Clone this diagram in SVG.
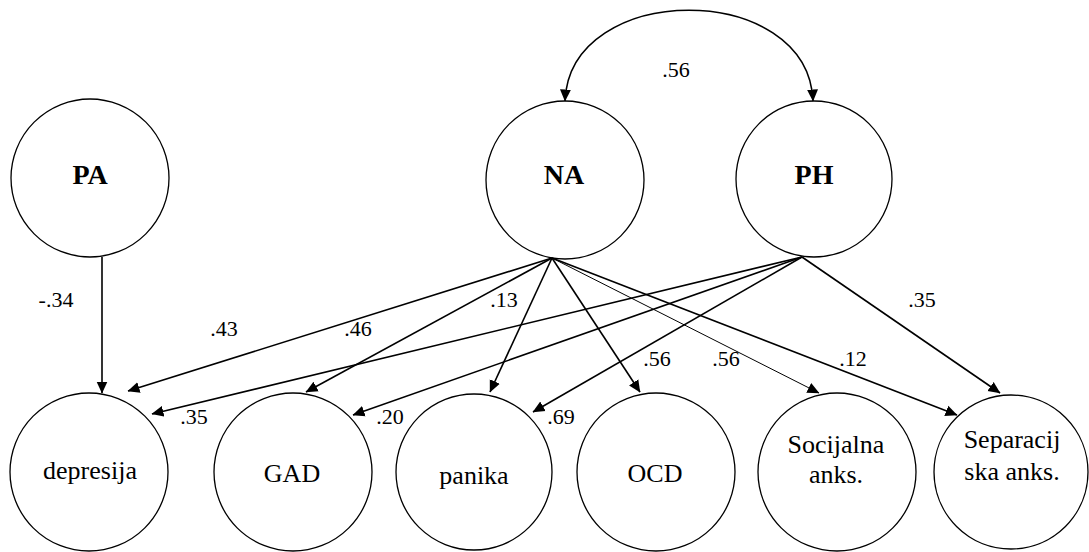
<svg xmlns="http://www.w3.org/2000/svg" width="1089" height="552" viewBox="0 0 1089 552">
<style>
.node{fill:#fff;stroke:#000;stroke-width:1.3}
text{font-family:'Liberation Serif','Times New Roman',Times,'DejaVu Serif',serif;fill:#000;text-anchor:middle}
.lat{font-weight:bold;font-size:28px}
.obs{font-size:26px}
.lbl{font-size:22px}
.edge{fill:none;stroke:#000;stroke-width:1.6;marker-end:url(#ah)}
.thin{stroke-width:1}
</style>
<defs>
<marker id="ah" markerUnits="userSpaceOnUse" markerWidth="12" markerHeight="12" viewBox="0 0 12 12" refX="11.5" refY="6" orient="auto">
<path d="M0,0.5 L12,6 L0,11.5 z" fill="#000"/>
</marker>
<marker id="ahs" markerUnits="userSpaceOnUse" markerWidth="12" markerHeight="12" viewBox="0 0 12 12" refX="11.5" refY="6" orient="auto-start-reverse">
<path d="M0,0.5 L12,6 L0,11.5 z" fill="#000"/>
</marker>
</defs>
<rect x="0" y="0" width="1089" height="552" fill="#fff"/>
<g id="PA"><circle class="node" cx="90" cy="178" r="79"/><text class="lat" x="90" y="184" font-family="Liberation Serif, serif">PA</text></g>
<g id="NA"><circle class="node" cx="565" cy="180" r="79"/><text class="lat" x="564" y="184" font-family="Liberation Serif, serif">NA</text></g>
<g id="PH"><circle class="node" cx="814" cy="179" r="78"/><text class="lat" x="814" y="184" font-family="Liberation Serif, serif">PH</text></g>
<g id="depresija"><circle class="node" cx="89" cy="472" r="79"/><text class="obs" x="90" y="479" font-family="Liberation Serif, serif">depresija</text></g>
<g id="GAD"><circle class="node" cx="293" cy="472" r="79"/><text class="obs" x="292" y="482" font-family="Liberation Serif, serif">GAD</text></g>
<g id="panika"><circle class="node" cx="474" cy="472" r="78"/><text class="obs" x="474" y="484" font-family="Liberation Serif, serif">panika</text></g>
<g id="OCD"><circle class="node" cx="656" cy="472" r="79"/><text class="obs" x="655" y="482" font-family="Liberation Serif, serif">OCD</text></g>
<g id="socijalna"><circle class="node" cx="837" cy="472" r="79"/><text class="obs" x="836" y="453" font-family="Liberation Serif, serif">Socijalna</text><text class="obs" x="836" y="483" font-family="Liberation Serif, serif">anks.</text></g>
<g id="separacijska"><circle class="node" cx="1011" cy="472" r="77"/><text class="obs" x="1012" y="448" font-family="Liberation Serif, serif">Separacij</text><text class="obs" x="1012" y="480" font-family="Liberation Serif, serif">ska anks.</text></g>
<g id="connectors">
<path d="M565,101 C570,-20 808,-20 813,101" fill="none" stroke="#000" stroke-width="1.6" marker-start="url(#ahs)" marker-end="url(#ah)"/>
<line class="edge" x1="102" y1="257" x2="102" y2="393"/>
<line class="edge" x1="552" y1="258" x2="128" y2="391"/>
<line class="edge" x1="552" y1="258" x2="306" y2="392"/>
<line class="edge" x1="552" y1="258" x2="490" y2="392"/>
<line class="edge" x1="552" y1="258" x2="640" y2="392"/>
<line class="edge thin" x1="552" y1="258" x2="819" y2="393"/>
<line class="edge" x1="552" y1="258" x2="957" y2="415"/>
<line class="edge" x1="802" y1="257" x2="152" y2="414"/>
<line class="edge" x1="802" y1="257" x2="353" y2="415"/>
<line class="edge" x1="802" y1="257" x2="533" y2="412"/>
<line class="edge" x1="802" y1="257" x2="1000" y2="393"/>
</g>
<g id="labels">
<text class="lbl" x="676" y="77">.56</text>
<text class="lbl" x="56" y="307">-.34</text>
<text class="lbl" x="224" y="336">.43</text>
<text class="lbl" x="358" y="336">.46</text>
<text class="lbl" x="504" y="307">.13</text>
<text class="lbl" x="657" y="366">.56</text>
<text class="lbl" x="726" y="366">.56</text>
<text class="lbl" x="853" y="366">.12</text>
<text class="lbl" x="922" y="307">.35</text>
<text class="lbl" x="194" y="424">.35</text>
<text class="lbl" x="390" y="424">.20</text>
<text class="lbl" x="561" y="424">.69</text>
</g>
</svg>
